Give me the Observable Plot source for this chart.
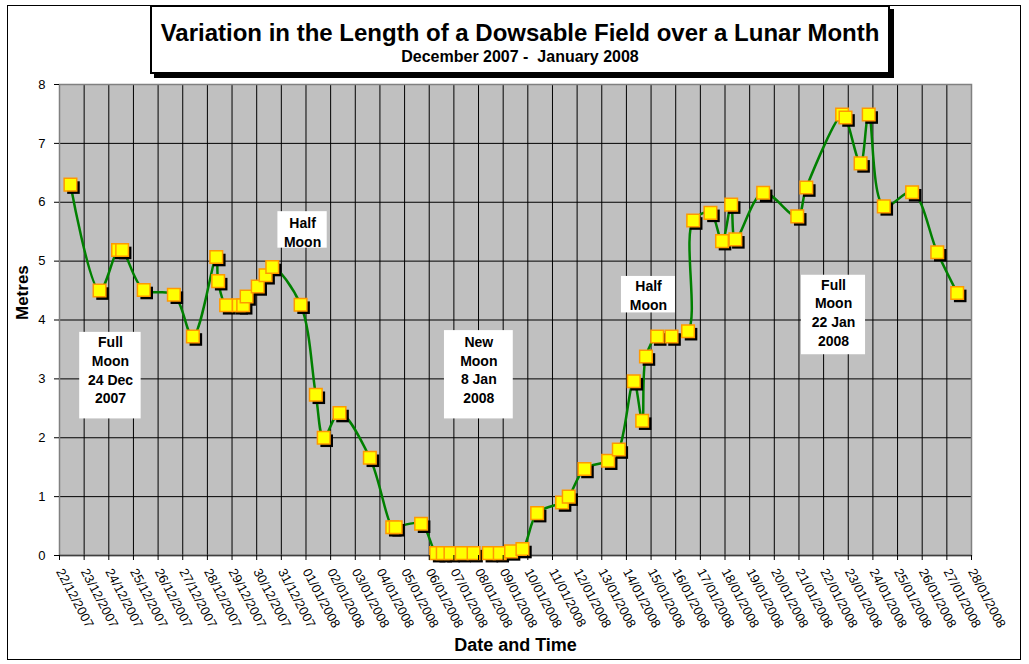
<!DOCTYPE html>
<html><head><meta charset="utf-8">
<script src="https://cdn.jsdelivr.net/npm/d3@7"></script>
<script src="https://cdn.jsdelivr.net/npm/@observablehq/plot@0.6"></script>
<style>
body{margin:0;background:#fff;font-family:"Liberation Sans",Arial,sans-serif;}
#wrap{position:relative;width:1029px;height:664px;overflow:hidden;background:#fff;}
#wrap svg{position:absolute;left:0;top:0;}
#frame{position:absolute;left:7px;top:5px;width:1014px;height:655px;border:1.5px solid #000;box-sizing:border-box;pointer-events:none;}
#title{position:absolute;left:150px;top:5px;width:740px;height:69px;border:2px solid #000;background:#fff;box-shadow:4px 4px 0 #000;box-sizing:border-box;text-align:center;}
#title .t{font-weight:bold;font-size:24px;line-height:25px;margin-top:13px;white-space:nowrap;}
#title .s{font-weight:bold;font-size:16px;line-height:17px;margin-top:3px;}
</style>
</head><body>
<div id="wrap">
  <div id="frame"></div>
  <div id="title"><div class="t">Variation in the Length of a Dowsable Field over a Lunar Month</div><div class="s">December 2007 -&nbsp; January 2008</div></div>
</div>
<script>
// Date/time of each measurement (UTC) and dowsable field length in metres
const times = [
  "2007-12-22T10:40","2007-12-23T15:00","2007-12-24T09:00","2007-12-24T13:00","2007-12-25T10:00",
  "2007-12-26T15:20","2007-12-27T09:50","2007-12-28T08:40","2007-12-28T10:30","2007-12-28T18:15",
  "2007-12-29T06:30","2007-12-29T10:50","2007-12-29T14:10","2007-12-30T01:00","2007-12-30T08:40",
  "2007-12-30T15:10","2007-12-31T18:45","2008-01-01T09:35","2008-01-01T17:15","2008-01-02T08:40",
  "2008-01-03T14:10","2008-01-04T12:00","2008-01-04T15:20","2008-01-05T16:05","2008-01-06T06:45",
  "2008-01-06T13:10","2008-01-06T20:40","2008-01-07T07:40","2008-01-07T19:10","2008-01-08T10:05",
  "2008-01-08T20:40","2008-01-09T07:40","2008-01-09T18:45","2008-01-10T09:05","2008-01-11T09:20",
  "2008-01-11T15:50","2008-01-12T07:10","2008-01-13T06:15","2008-01-13T16:35","2008-01-14T07:10",
  "2008-01-14T15:20","2008-01-14T19:00","2008-01-15T06:00","2008-01-15T19:55","2008-01-16T12:00",
  "2008-01-16T17:00","2008-01-17T09:50","2008-01-17T21:05","2008-01-18T06:00","2008-01-18T10:05",
  "2008-01-19T13:10","2008-01-20T22:20","2008-01-21T07:10","2008-01-22T18:00","2008-01-22T21:20",
  "2008-01-23T12:00","2008-01-23T19:55","2008-01-24T10:35","2008-01-25T14:10","2008-01-26T14:40",
  "2008-01-27T10:05"
];
const metres = [
  6.30,4.50,5.19,5.19,4.51,
  4.43,3.72,5.07,4.66,4.25,
  4.25,4.25,4.40,4.57,4.76,
  4.90,4.26,2.73,2.00,2.42,
  1.66,0.48,0.48,0.54,0.04,
  0.04,0.04,0.04,0.04,0.04,
  0.04,0.07,0.11,0.72,0.90,
  1.00,1.47,1.61,1.80,2.96,
  2.29,3.38,3.72,3.72,3.81,
  5.69,5.82,5.34,5.96,5.37,
  6.16,5.76,6.25,7.49,7.44,
  6.66,7.49,5.93,6.17,5.15,
  4.46
];
const yTicks = [0,1,2,3,4,5,6,7,8];
const xStart = "2007-12-22", xEnd = "2008-01-28";
const yLabel = "Metres", xLabel = "Date and Time";
// Moon phase notes: text, box corners (date/time, metres), text centre
const noteText = ["Full\nMoon\n24 Dec\n2007","Half\nMoon","New\nMoon\n8 Jan\n2008","Half\nMoon","Full\nMoon\n22 Jan\n2008"];
const noteX1 = ["2007-12-22T19:40","2007-12-30T20:40","2008-01-06T14:50","2008-01-13T19:10","2008-01-21T02:25"];
const noteX2 = ["2007-12-25T07:30","2008-01-01T20:40","2008-01-09T09:50","2008-01-15T23:45","2008-01-23T16:50"];
const noteY1 = [3.79,5.84,3.82,4.74,4.76];
const noteY2 = [2.32,5.22,2.32,4.12,3.41];
const noteCX = ["2007-12-24T01:40","2007-12-31T20:40","2008-01-08T00:15","2008-01-14T21:30","2008-01-22T09:40"];
const noteCY = [3.16,5.50,3.17,4.43,4.14];

const d = s => new Date(s + (s.length > 10 ? "Z" : "T00:00Z"));
const data = times.map((t, i) => ({date: d(t), metres: metres[i]}));
const notes = noteText.map((t, i) => ({text: t, x1: d(noteX1[i]), x2: d(noteX2[i]), y1: noteY1[i], y2: noteY2[i], cx: d(noteCX[i]), cy: noteCY[i]}));
const start = d(xStart), end = d(xEnd);
const days = d3.utcDay.range(start, d3.utcDay.offset(end, 1));
const fmt = d3.utcFormat("%d/%m/%Y");
const font = "'Liberation Sans', Arial, sans-serif";

const chart = Plot.plot({
  width: 1029, height: 664,
  marginLeft: 59, marginRight: 58, marginTop: 84, marginBottom: 109,
  style: {fontFamily: font, fontSize: "12px", color: "#000", background: "transparent", overflow: "visible"},
  x: {type: "utc", domain: [start, end]},
  y: {domain: [0, 8]},
  marks: [
    Plot.frame({fill: "#c0c0c0", stroke: null}),
    Plot.ruleX(days, {stroke: "#000", strokeWidth: 1}),
    Plot.ruleY(yTicks, {stroke: "#000", strokeWidth: 1}),
    Plot.frame({stroke: "#808080", strokeWidth: 1.5, fill: null}),
    Plot.ruleY([0], {stroke: "#404040", strokeWidth: 1.5}),
    Plot.rect(notes, {x1: "x1", x2: "x2", y1: "y1", y2: "y2", fill: "#fff"}),
    Plot.text(notes, {x: "cx", y: "cy", text: "text", fontWeight: "bold", fontSize: 14, lineHeight: 1.33, fill: "#000"}),
    Plot.line(data, {x: "date", y: "metres", stroke: "#008000", strokeWidth: 2.5, curve: "catmull-rom"}),
    Plot.dot(data, {x: "date", y: "metres", symbol: "square", r: 7.1, fill: "#000", stroke: null, dx: 3, dy: 3}),
    Plot.dot(data, {x: "date", y: "metres", symbol: "square", r: 7.1, fill: "#ffff00", stroke: "#ff9900", strokeWidth: 1.5}),
    Plot.axisY({ticks: yTicks, tickSize: 5, tickPadding: 9, fontSize: 13, label: null, tickFormat: d3.format("d")}),
    Plot.axisX({ticks: days, tickFormat: fmt, tickRotate: 62, tickSize: 5, tickPadding: 9, fontSize: 13, label: null}),
    Plot.text([yLabel], {frameAnchor: "left", dx: -37, rotate: -90, fontWeight: "bold", fontSize: 17, fill: "#000"}),
    Plot.text([xLabel], {frameAnchor: "bottom", dy: 95, fontWeight: "bold", fontSize: 18, fill: "#000"})
  ]
});
document.getElementById("wrap").prepend(chart);
</script>
</body></html>
